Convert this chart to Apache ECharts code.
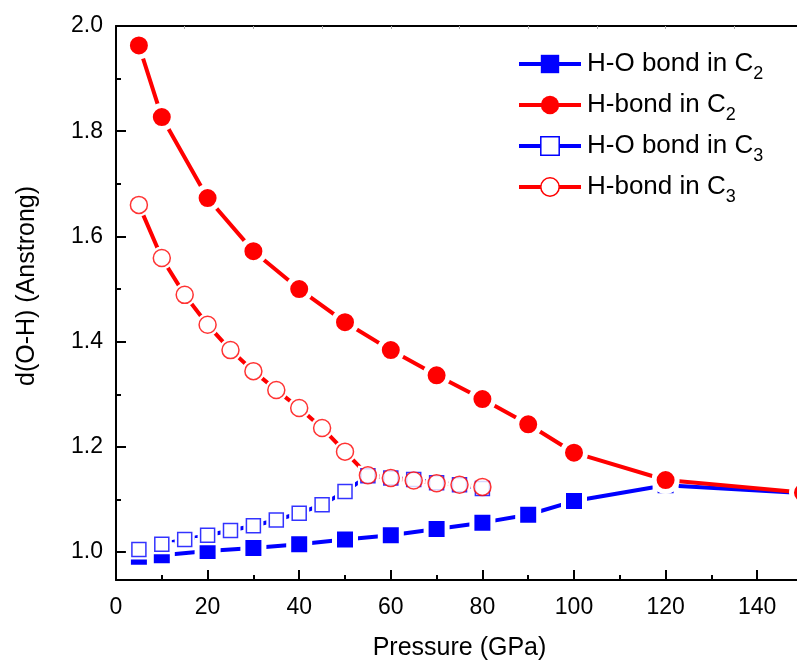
<!DOCTYPE html>
<html>
<head>
<meta charset="utf-8">
<script src="https://cdn.jsdelivr.net/npm/echarts@6/dist/echarts.min.js"></script>
<style>
  html, body { margin: 0; padding: 0; background: #fff; overflow: hidden; }
  #chart { width: 797px; height: 660px; }
</style>
</head>
<body>
<div id="chart"></div>
<script>
// Pressure points (GPa) for the two structures
const pressureC2 = [5, 10, 20, 30, 40, 50, 60, 70, 80, 90, 100, 120, 150];
const pressureC3 = [5, 10, 15, 20, 25, 30, 35, 40, 45, 50, 55, 60, 65, 70, 75, 80];

// O-H distances (Angstrom)
const hoBondC2 = [0.991, 0.994, 1.002, 1.008, 1.015, 1.024, 1.032, 1.044, 1.056, 1.071, 1.097, 1.127, 1.112];
const hBondC2  = [1.963, 1.827, 1.673, 1.572, 1.500, 1.437, 1.384, 1.336, 1.291, 1.243, 1.189, 1.137, 1.113];
const hoBondC3 = [1.005, 1.015, 1.024, 1.032, 1.041, 1.050, 1.061, 1.074, 1.090, 1.115, 1.145, 1.141, 1.138, 1.132, 1.128, 1.121];
const hBondC3  = [1.660, 1.559, 1.489, 1.432, 1.384, 1.344, 1.308, 1.274, 1.236, 1.191, 1.146, 1.141, 1.136, 1.131, 1.128, 1.124];

// Axis ticks
const xMajorTicks = [0, 20, 40, 60, 80, 100, 120, 140];
const xMinorTicks = [10, 30, 50, 70, 90, 110, 130];
const xTopTicks = [15, 30, 45, 60, 75, 90, 105, 120, 135];
const yMajorTicks = [1.0, 1.2, 1.4, 1.6, 1.8, 2.0];
const yMinorTicks = [1.1, 1.3, 1.5, 1.7, 1.9];

const seriesNames = ['H-O bond in C2', 'H-bond in C2', 'H-O bond in C3', 'H-bond in C3'];

const BLUE = '#0000ff';
const RED = '#ff0000';
const FONT = 'Liberation Sans';

const pairs = (xs, ys) => xs.map((x, i) => [x, ys[i]]);

const chart = echarts.init(document.getElementById('chart'), null, { renderer: 'canvas' });

const X_MIN = 0, X_MAX = 150, Y_MIN = 0.947, Y_MAX = 2.0;

// Line with markers; the white rim leaves a small gap between line and marker
const baseLine = (name, xs, ys, color, symbol, size, hollow) => ({
  name,
  type: 'line',
  z: 3,
  data: pairs(xs, ys),
  xAxisIndex: 0,
  yAxisIndex: 0,
  symbol,
  symbolSize: size,
  showSymbol: true,
  lineStyle: { color, width: 4 },
  itemStyle: hollow
    ? { color: '#fff', borderColor: '#fff', borderWidth: 5 }
    : { color, borderColor: '#fff', borderWidth: 5 },
  emphasis: { disabled: true },
  clip: false
});

// Open markers drawn above every line
const hollowMarks = (xs, ys, color, symbol, size) => ({
  type: 'scatter',
  z: 5,
  data: pairs(xs, ys),
  xAxisIndex: 0,
  yAxisIndex: 0,
  symbol,
  symbolSize: size,
  itemStyle: { color: '#fff', borderColor: color, borderWidth: 1.5 },
  emphasis: { disabled: true },
  silent: true
});

const option = {
  animation: false,
  backgroundColor: '#fff',
  textStyle: { fontFamily: FONT },
  grid: { left: 116, right: -6, top: 26, bottom: 80, containLabel: false, outerBoundsMode: 'none' },
  legend: {
    orient: 'vertical',
    left: 512,
    top: 40,
    itemWidth: 62,
    itemHeight: 23,
    itemGap: 3,
    padding: 5,
    selectedMode: false,
    lineStyle: { width: 4 },
    data: [
      { name: seriesNames[0], itemStyle: { borderWidth: 0 } },
      { name: seriesNames[1], itemStyle: { borderWidth: 0 } },
      { name: seriesNames[2], itemStyle: { color: '#fff', borderColor: BLUE, borderWidth: 1.5 } },
      { name: seriesNames[3], itemStyle: { color: '#fff', borderColor: RED, borderWidth: 1.5 } }
    ],
    formatter: (name) => name.replace(/C(\d)$/, 'C{sub|$1}'),
    textStyle: {
      fontFamily: FONT,
      fontSize: 26,
      color: '#000',
      lineHeight: 38,
      padding: [0, 0, 0, 1],
      rich: {
        sub: { fontFamily: FONT, fontSize: 18, lineHeight: 18, verticalAlign: 'bottom', color: '#000' }
      }
    }
  },
  xAxis: [
    {
      type: 'value',
      min: X_MIN,
      max: X_MAX,
      position: 'bottom',
      name: 'Pressure (GPa)',
      nameLocation: 'middle',
      nameGap: 56,
      nameTextStyle: { fontFamily: FONT, fontSize: 25, color: '#000' },
      axisLine: { show: true, onZero: false, lineStyle: { color: '#000', width: 2 } },
      axisTick: { show: true, inside: true, length: 10, customValues: xMajorTicks, lineStyle: { color: '#000', width: 2 } },
      axisLabel: { show: true, customValues: xMajorTicks, margin: 16, fontFamily: FONT, fontSize: 23, color: '#000' },
      splitLine: { show: false }
    },
    {
      type: 'value',
      min: X_MIN,
      max: X_MAX,
      position: 'bottom',
      axisLine: { show: false },
      axisTick: { show: true, inside: true, length: 5, customValues: xMinorTicks, lineStyle: { color: '#000', width: 2 } },
      axisLabel: { show: false },
      splitLine: { show: false }
    },
    {
      type: 'value',
      min: X_MIN,
      max: X_MAX,
      position: 'top',
      axisLine: { show: true, onZero: false, lineStyle: { color: '#000', width: 2 } },
      axisTick: { show: true, inside: true, length: 3, customValues: xTopTicks, lineStyle: { color: '#aaa', width: 1 } },
      axisLabel: { show: false },
      splitLine: { show: false }
    }
  ],
  yAxis: [
    {
      type: 'value',
      min: Y_MIN,
      max: Y_MAX,
      position: 'left',
      name: 'd(O-H) (Anstrong)',
      nameLocation: 'middle',
      nameGap: 76,
      nameTextStyle: { fontFamily: FONT, fontSize: 25, color: '#000', padding: [0, 0, 0, 34] },
      axisLine: { show: true, onZero: false, lineStyle: { color: '#000', width: 2 } },
      axisTick: { show: true, inside: true, length: 10, customValues: yMajorTicks, lineStyle: { color: '#000', width: 2 } },
      axisLabel: {
        show: true,
        customValues: yMajorTicks,
        margin: 13,
        fontFamily: FONT,
        fontSize: 23,
        color: '#000',
        formatter: (v) => v.toFixed(1)
      },
      splitLine: { show: false }
    },
    {
      type: 'value',
      min: Y_MIN,
      max: Y_MAX,
      position: 'left',
      axisLine: { show: false },
      axisTick: { show: true, inside: true, length: 5, customValues: yMinorTicks, lineStyle: { color: '#000', width: 2 } },
      axisLabel: { show: false },
      splitLine: { show: false }
    }
  ],
  series: [
    baseLine(seriesNames[0], pressureC2, hoBondC2, BLUE, 'rect', 21, false),
    baseLine(seriesNames[1], pressureC2, hBondC2, RED, 'circle', 23, false),
    baseLine(seriesNames[2], pressureC3, hoBondC3, BLUE, 'rect', 15, true),
    baseLine(seriesNames[3], pressureC3, hBondC3, RED, 'circle', 18, true),
    hollowMarks(pressureC3, hoBondC3, BLUE, 'rect', 14),
    hollowMarks(pressureC3, hBondC3, RED, 'circle', 17)
  ]
};

chart.setOption(option);
</script>
</body>
</html>
